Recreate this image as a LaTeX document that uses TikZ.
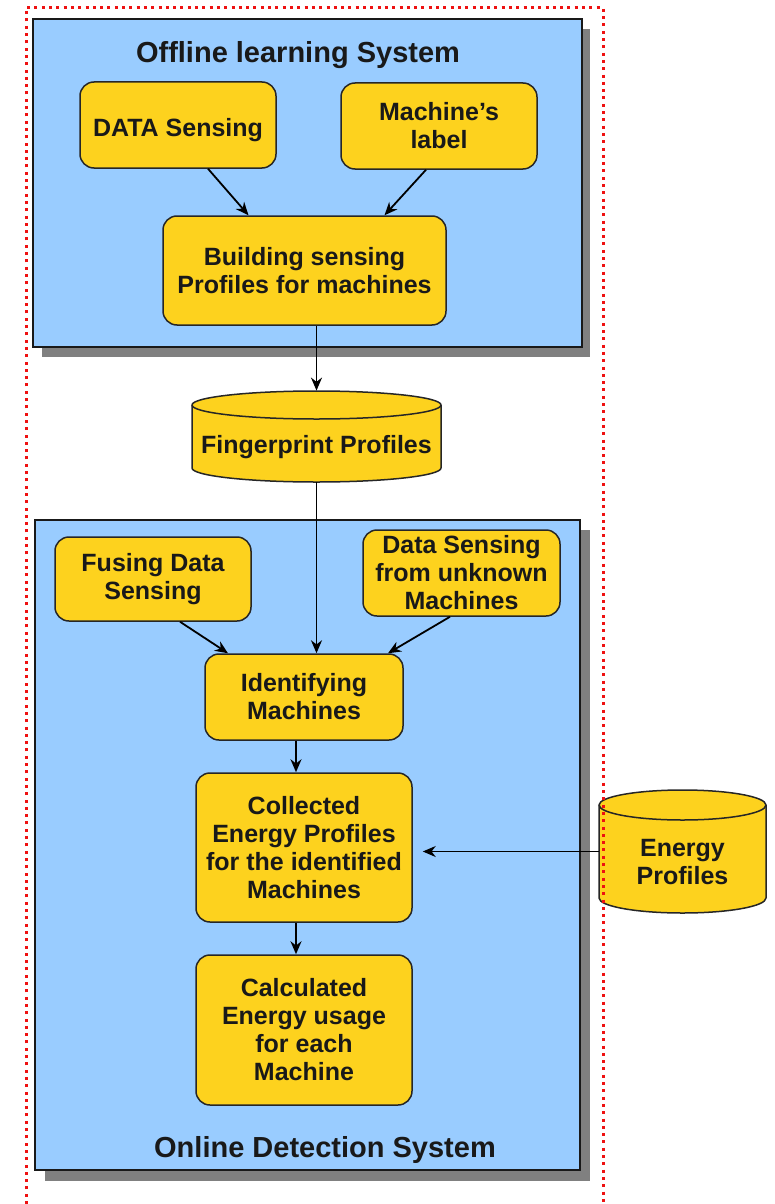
\documentclass[tikz,border=0pt]{standalone}
\usepackage{fontspec}
\setmainfont{Liberation Sans}
\usetikzlibrary{arrows.meta}
\definecolor{bluebg}{HTML}{99CCFF}
\definecolor{yel}{HTML}{FDD21E}
\definecolor{shad}{HTML}{808080}
\definecolor{redf}{HTML}{EE1111}
\begin{document}
\begin{tikzpicture}[x=0.5pt,y=-0.5pt,
  txt/.style={font=\bfseries\fontsize{12.5}{14}\selectfont, align=center, inner sep=0pt, text=black!90},
  ybox/.style={txt, draw=black!85, line width=0.75pt, fill=yel, rounded corners=7pt},
  ttl/.style={font=\bfseries\fontsize{14.5}{16}\selectfont, inner sep=0pt, text=black!90},
  panel/.style={draw=black!90, line width=1pt, fill=bluebg},
  shadowbox/.style={fill=shad, draw=none},
  cyl/.style={draw=black!85, line width=0.75pt, fill=yel},
  conn/.style={draw=black, line width=0.9pt, -{Stealth[length=6.5pt,width=5.5pt]}},
  frame/.style={draw=redf, line width=1.5pt, dash pattern=on 1.5pt off 2.15pt}
]
\useasboundingbox (0,0) rectangle (775,1204);

% panels
\path[shadowbox] (42,29) rectangle (590,357);
\path[panel] (33,19) rectangle (582,347);
\path[shadowbox] (45,530) rectangle (590,1181);
\path[panel] (35,520) rectangle (580,1170);

\node[ttl] (t1) at (298,55) {Offline learning System};
\node[ttl] (t2) at (325,1150) {Online Detection System};

% offline boxes
\node[ybox, minimum width=98pt, minimum height=43pt, text height=14pt, text depth=2.6pt] (ds) at (178,125) {DATA Sensing};
\node[ybox, minimum width=98pt, minimum height=43pt] (ml) at (439,126) {Machine's\\label};
\node[ybox, minimum width=141.5pt, minimum height=54.5pt] (bld) at (304.5,270.5) {Building sensing\\Profiles for machines};

% fingerprint cylinder
\path[cyl] (192,405) -- (192,468) arc[start angle=180,end angle=360,x radius=62.25pt,y radius=7pt]
  -- (441,405) arc[start angle=0,end angle=180,x radius=62.25pt,y radius=7pt] -- cycle;
\draw[black!85, line width=0.75pt] (192,405) arc[start angle=180,end angle=360,x radius=62.25pt,y radius=7pt];
\node[minimum width=124.5pt, minimum height=45.5pt, inner sep=0pt] (fp) at (316.5,436.5) {};
\node[txt] (fpt) at (316.5,447) {Fingerprint Profiles};

% online boxes
\node[ybox, minimum width=98pt, minimum height=42pt] (fu) at (153,579) {Fusing Data\\Sensing};
\node[ybox, minimum width=98.5pt, minimum height=43pt] (un) at (461.5,573) {Data Sensing\\from unknown\\Machines};
\node[ybox, minimum width=99pt, minimum height=43pt] (id) at (304,697) {Identifying\\Machines};
\node[ybox, minimum width=108pt, minimum height=74.5pt] (co) at (304,847.5) {Collected\\Energy Profiles\\for the identified\\Machines};
\node[ybox, minimum width=108pt, minimum height=75pt] (ca) at (304,1030) {Calculated\\Energy usage\\for each\\Machine};

% energy cylinder
\path[cyl] (599,805) -- (599,898) arc[start angle=180,end angle=360,x radius=41.75pt,y radius=7.5pt]
  -- (766,805) arc[start angle=0,end angle=180,x radius=41.75pt,y radius=7.5pt] -- cycle;
\draw[black!85, line width=0.75pt] (599,805) arc[start angle=180,end angle=360,x radius=41.75pt,y radius=7.5pt];
\node[minimum width=83.5pt, minimum height=61.5pt, inner sep=0pt] (ep) at (682.5,851.5) {};
\node[txt] (ept) at (682.5,862) {Energy\\Profiles};

% connectors
\draw[conn] ([xshift=15pt]ds.south) -- ([xshift=-28pt]bld.north);
\draw[conn] ([xshift=-6.5pt]ml.south) -- ([xshift=40pt]bld.north);
\draw[conn] (bld.south -| fp.north) -- (fp.north);
\draw[conn] (fp.south) -- (fp.south |- id.north);
\draw[conn] ([xshift=13.5pt]fu.south) -- ([xshift=-38pt]id.north);
\draw[conn] ([xshift=-5.75pt]un.south) -- ([xshift=42pt]id.north);
\draw[conn] ([xshift=-4pt]id.south) -- ([xshift=-4pt]co.north);
\draw[conn] ([xshift=-4pt]co.south) -- ([xshift=-4pt]ca.north);
\draw[conn, shorten >=5pt] (ep.west) -- (ep.west -| co.east);

% red dotted frame
\draw[frame] (26,1204) -- (26,8) -- (603,8) -- (603,1204);
\end{tikzpicture}
\end{document}
